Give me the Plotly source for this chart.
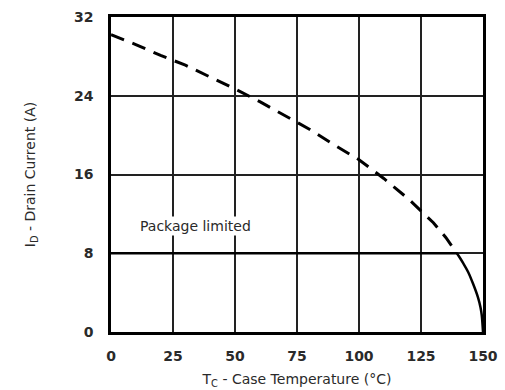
import plotly.graph_objects as go

# Thermally limited drain current (dashed above package limit)
temp_dashed = [0, 10, 20, 30, 40, 50, 60, 70, 80, 90, 100, 110, 120, 130, 135, 139.5]
id_dashed = [30.2, 29.2, 28.1, 27.1, 25.9, 24.7, 23.4, 22.0, 20.6, 19.0, 17.5, 15.6, 13.5, 11.1, 9.6, 8.0]

# Thermally limited drain current below package limit
temp_solid = [139.5, 142, 144, 146, 148, 149, 149.5, 150]
id_solid = [8.0, 7.0, 6.1, 4.9, 3.5, 2.5, 1.7, 0.0]

# Package current limit
temp_pkg = [0, 139.5]
id_pkg = [8.0, 8.0]

x_ticks = [0, 25, 50, 75, 100, 125, 150]
y_ticks = [0, 8, 16, 24, 32]

font_family = "DejaVu Sans, Verdana, sans-serif"
text_color = "#2a2a2a"

fig = go.Figure()
fig.add_trace(go.Scatter(x=temp_dashed, y=id_dashed, mode="lines",
                         line=dict(color="black", width=3, dash="14px,9px"),
                         showlegend=False))
fig.add_trace(go.Scatter(x=temp_pkg, y=id_pkg, mode="lines",
                         line=dict(color="black", width=2.5),
                         showlegend=False))
fig.add_trace(go.Scatter(x=temp_solid, y=id_solid, mode="lines",
                         line=dict(color="black", width=2.5, shape="spline"),
                         showlegend=False))

fig.add_annotation(x=34, y=10.8, text="Package limited", showarrow=False,
                   font=dict(family=font_family, size=14, color=text_color),
                   bgcolor="white")

tick_font = dict(family=font_family, size=14, color=text_color, weight="bold")
title_font = dict(family=font_family, size=14, color=text_color)

fig.update_xaxes(range=[0, 150], tickvals=x_ticks, ticktext=[str(v) for v in x_ticks],
                 showgrid=True, gridcolor="#222", gridwidth=1.5,
                 showline=True, linecolor="black", linewidth=2.5, mirror=True,
                 zeroline=False, ticks="", ticklabelstandoff=9, automargin=False,
                 tickfont=tick_font,
                 title=dict(text="T<sub>C</sub> - Case Temperature (°C)",
                            font=title_font, standoff=12))
fig.update_yaxes(range=[0, 32], tickvals=y_ticks, ticktext=[str(v) for v in y_ticks],
                 showgrid=True, gridcolor="#222", gridwidth=1.5,
                 showline=True, linecolor="black", linewidth=2.5, mirror=True,
                 zeroline=False, ticks="", ticklabelstandoff=12, automargin=False,
                 tickfont=tick_font,
                 title=dict(text="I<sub>D</sub> - Drain Current (A)",
                            font=title_font, standoff=36))

fig.update_layout(width=505, height=390, margin=dict(l=111, r=22, t=17, b=58),
                  plot_bgcolor="white", paper_bgcolor="white")

fig.write_html("out.html")
